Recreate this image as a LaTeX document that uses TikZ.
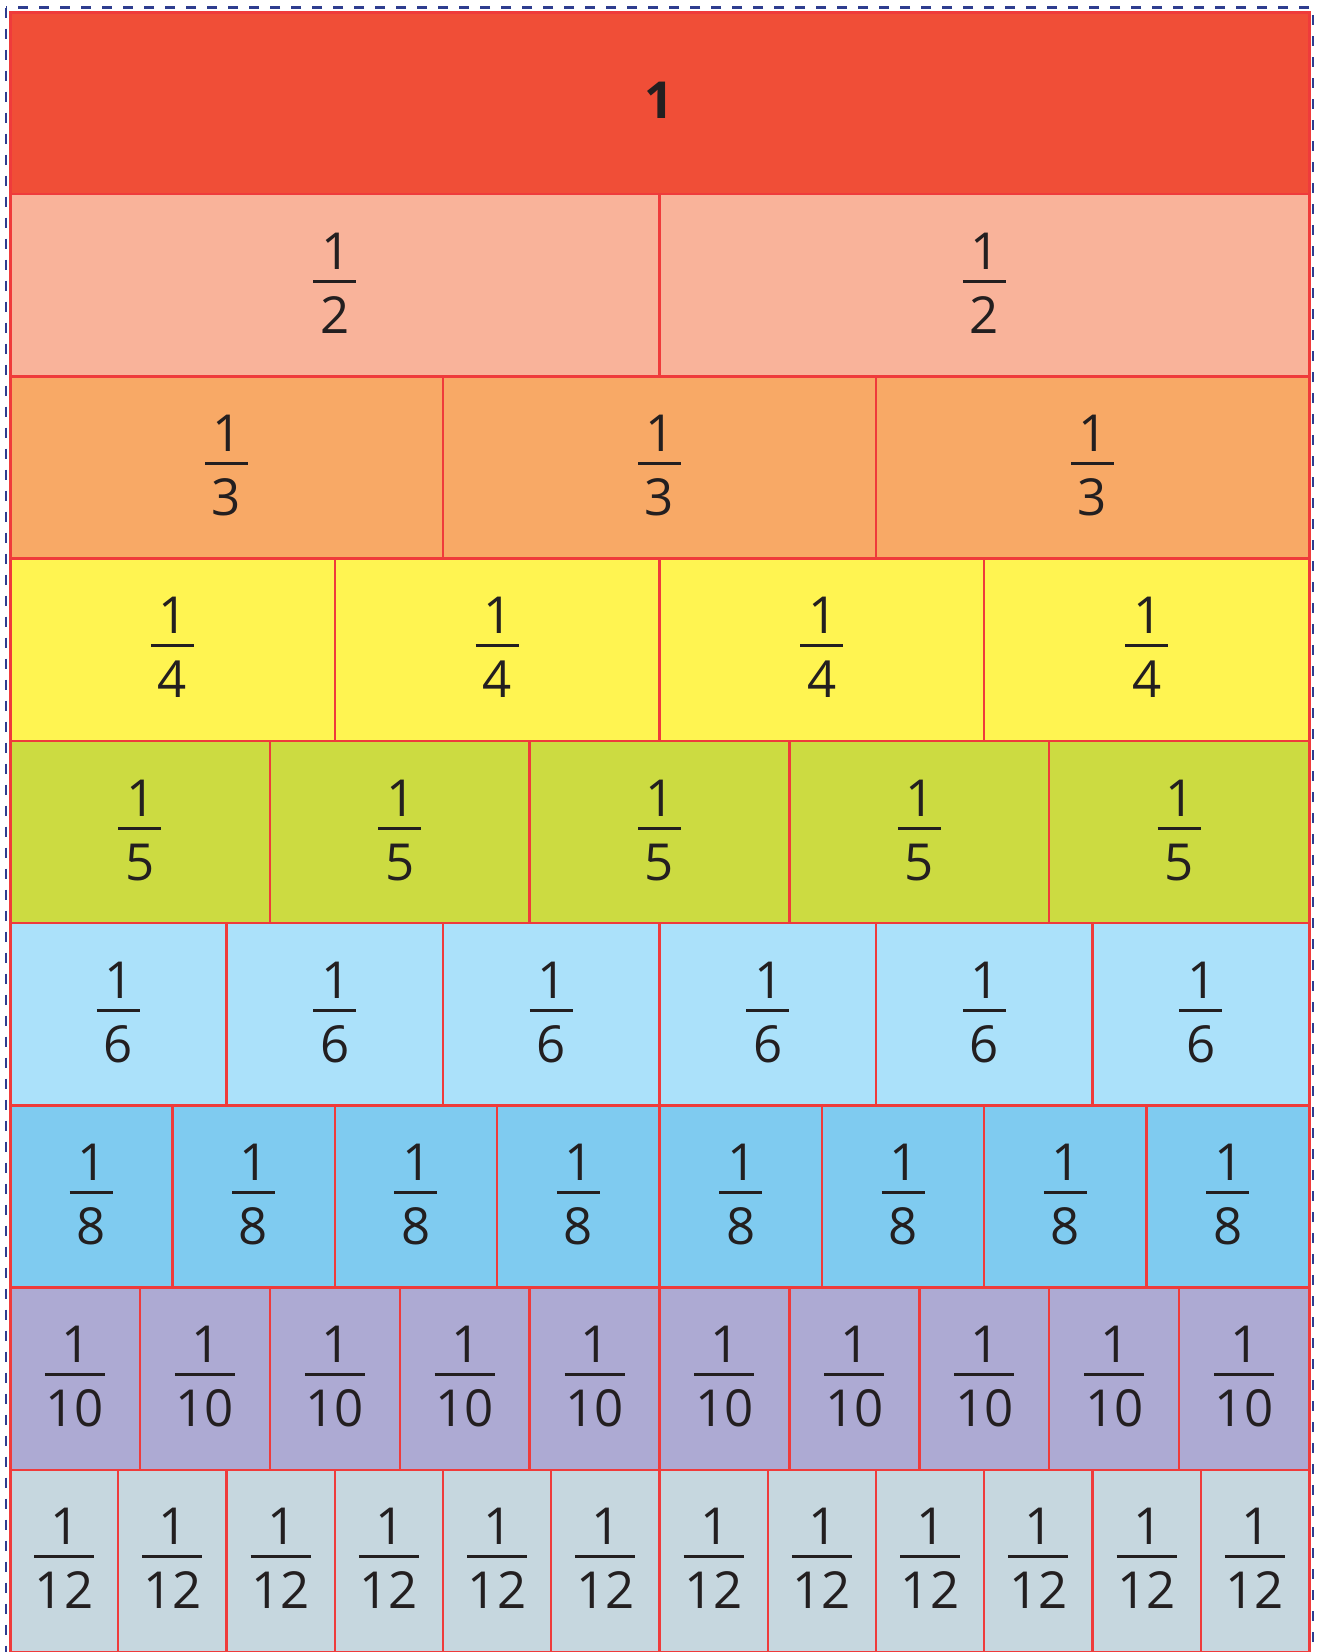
\documentclass[tikz,border=0pt]{standalone}
\usepackage{fontspec}
\setmainfont{Open Sans}
\definecolor{c1}{HTML}{F04E37}
\definecolor{c2}{HTML}{F9B39A}
\definecolor{c3}{HTML}{F8A966}
\definecolor{c4}{HTML}{FFF451}
\definecolor{c5}{HTML}{CCDB41}
\definecolor{c6}{HTML}{ABE1FA}
\definecolor{c7}{HTML}{7FCBF0}
\definecolor{c8}{HTML}{ADAAD3}
\definecolor{c9}{HTML}{C6D7DF}
\definecolor{gridred}{HTML}{EF3B3B}
\definecolor{dashblue}{HTML}{2E3D8F}
\definecolor{ink}{HTML}{231F20}
\begin{document}
\begin{tikzpicture}[x=1pt,y=-1pt,
  cell/.style={draw=gridred,line width=2.4pt},
  lab/.style={inner sep=0pt,text=ink,font=\fontsize{51}{51}\selectfont},
  boldlab/.style={inner sep=0pt,text=ink,font=\fontsize{51}{51}\selectfont\bfseries},
  fracbar/.style={draw=ink,line width=3pt},
  outerdash/.style={draw=dashblue,line width=2.6pt,dash pattern=on 10pt off 11pt}]
\useasboundingbox (0,0) rectangle (1319,1652);
\fill[white] (0,0) rectangle (1319,1652);
\foreach \d/\c [count=\r] in {1/c1,2/c2,3/c3,4/c4,5/c5,6/c6,8/c7,10/c8,12/c9} {
  \pgfmathsetmacro\yt{12+(\r-1)*182.22}
  \pgfmathsetmacro\yb{\yt+182.22}
  \pgfmathsetmacro\cy{(\yt+\yb)/2}
  \foreach \k in {1,...,\d} {
    \pgfmathsetmacro\xl{10+(\k-1)*1299/\d}
    \pgfmathsetmacro\xr{10+\k*1299/\d}
    \pgfmathsetmacro\cx{(\xl+\xr)/2}
    \filldraw[cell,fill=\c] (\xl,\yt) rectangle (\xr,\yb);
    \ifnum\d=1
      \node[boldlab,anchor=base] (n\r-\k) at (\cx,\cy+15) {1};
    \else
      \ifnum\d>9 \def\bw{30}\else\def\bw{21.5}\fi
      \node[lab,anchor=base] (n\r-\k) at (\cx+1,\cy-16) {1};
      \node[lab,anchor=base] (d\r-\k) at (\cx,\cy+48) {\d};
      \coordinate (bl\r-\k) at (\cx-\bw,\cy-4);
      \coordinate (br\r-\k) at (\cx+\bw,\cy-4);
      \draw[fracbar] (bl\r-\k) -- (br\r-\k);
    \fi
  }
}
\draw[draw=gridred,line width=3pt] (10,12) rectangle (1309,1652);
\draw[outerdash] (6,7.5) rectangle (1313,1662);
\end{tikzpicture}
\end{document}
